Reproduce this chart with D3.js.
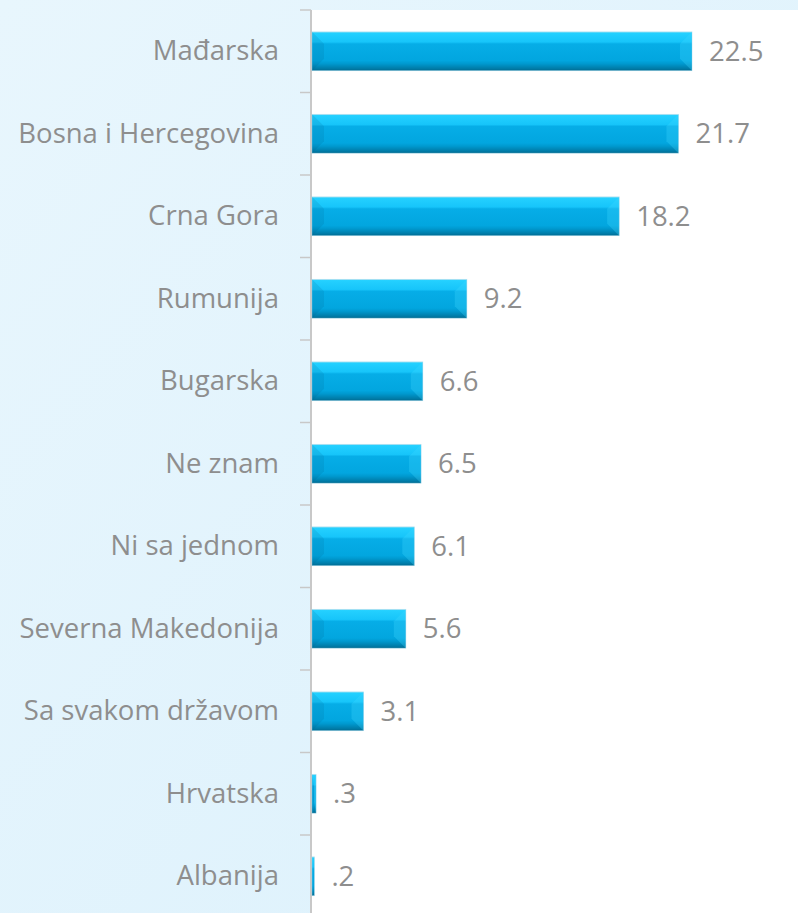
<!DOCTYPE html>
<html><head><meta charset="utf-8">
<script src="https://cdn.jsdelivr.net/npm/d3@7"></script>
<style>html,body{margin:0;padding:0;overflow:hidden;}svg{display:block;}</style>
</head><body>
<script>
const categories = ["Mađarska","Bosna i Hercegovina","Crna Gora","Rumunija","Bugarska","Ne znam","Ni sa jednom","Severna Makedonija","Sa svakom državom","Hrvatska","Albanija"];
const values = [22.5,21.7,18.2,9.2,6.6,6.5,6.1,5.6,3.1,0.3,0.2];

const W = 798, H = 913;
const svg = d3.select("body").append("svg").attr("width", W).attr("height", H);
const defs = svg.append("defs");

const bg = defs.append("linearGradient").attr("id","bg").attr("x1","0").attr("y1","0").attr("x2","1").attr("y2","1");
bg.append("stop").attr("offset","0").attr("stop-color","#e8f6fd");
bg.append("stop").attr("offset","1").attr("stop-color","#dcf1fc");

const bar = defs.append("linearGradient").attr("id","bar").attr("x1","0").attr("y1","0").attr("x2","0").attr("y2","1");
[[0,"#8fe4fa"],[0.03,"#24d0ff"],[0.26,"#17c5fa"],[0.31,"#06ade7"],[0.74,"#02a6df"],[0.82,"#0099cf"],[0.95,"#007ba7"],[1,"#006a90"]].forEach(s=>bar.append("stop").attr("offset",s[0]).attr("stop-color",s[1]));

svg.append("rect").attr("width",W).attr("height",H).attr("fill","url(#bg)");

const plotLeft = 311, plotTop = 10, band = 82.5;
svg.append("rect").attr("x",plotLeft).attr("y",plotTop).attr("width",W-plotLeft).attr("height",H-plotTop).attr("fill","#ffffff");

const y = d3.scaleBand().domain(categories).range([plotTop, plotTop + band*categories.length]).paddingInner(0.53).paddingOuter(0.265);
const x = d3.scaleLinear().domain([0, 22.5]).range([plotLeft, 692]);

const font = "'Open Sans', sans-serif", fsize = "27.5px", tcol = "#8e8e8e";

// axis
const axis = d3.axisLeft(y).tickSize(0).tickPadding(32).tickFormat(d=>d);
const ag = svg.append("g").attr("transform",`translate(${plotLeft},0)`).call(axis);
ag.select(".domain").remove();
ag.selectAll("text").attr("fill",tcol).style("font-family",font).style("font-size",fsize);

// tick marks at band boundaries
const bounds = d3.range(categories.length+1).map(i=>plotTop + i*band);
svg.append("g").selectAll("line").data(bounds).join("line")
  .attr("x1",300).attr("x2",plotLeft).attr("y1",d=>d).attr("y2",d=>d)
  .attr("stroke","#c8c8c8").attr("stroke-width",1.5);
svg.append("line").attr("x1",plotLeft).attr("x2",plotLeft).attr("y1",plotTop).attr("y2",H)
  .attr("stroke","#c8c8c8").attr("stroke-width",2);

// bars
const data = categories.map((c,i)=>({c, v: values[i]}));
const gBars = svg.append("g");
data.forEach(d=>{
  const x0 = x(0)+1, x1 = x(d.v), y0 = y(d.c), y1 = y0 + y.bandwidth();
  const g = gBars.append("g");
  g.append("rect").attr("x",x0).attr("y",y0).attr("width",Math.max(0,x1-x0)).attr("height",y1-y0).attr("fill","url(#bar)");
  const b = Math.min(12, (x1-x0)/2), bv = 12;
  if (b > 2) {
    g.append("path").attr("d",`M${x0},${y0}L${x0+b},${y0+bv}L${x0+b},${y1-bv}L${x0},${y1}Z`).attr("fill","#00507a").attr("opacity",0.12);
    g.append("path").attr("d",`M${x1},${y0}L${x1-b},${y0+bv}L${x1-b},${y1-bv}L${x1},${y1}Z`).attr("fill","#40d8ff").attr("opacity",0.3);
  }
  g.append("rect").attr("x",x0).attr("y",y0).attr("width",Math.max(0,x1-x0)).attr("height",y1-y0).attr("fill","none").attr("stroke","#8fd0e8").attr("stroke-width",0.8).attr("opacity",0.5);
});

// value labels
const fmt = v => d3.format(".1f")(v).replace(/^0\./,".");
svg.append("g").selectAll("text").data(data).join("text")
  .attr("x",d=>x(d.v)+17).attr("y",d=>y(d.c)+y.bandwidth()/2).attr("dy","0.35em")
  .attr("fill",tcol).style("font-family",font).style("font-size",fsize)
  .text(d=>fmt(d.v));
</script>
</body></html>
